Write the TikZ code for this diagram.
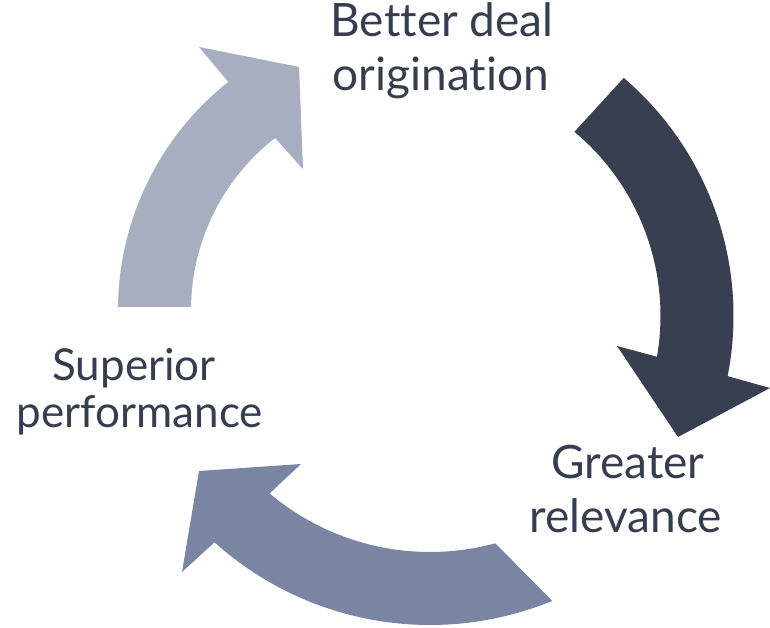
\documentclass[tikz,border=0pt]{standalone}
\usepackage{fontspec}
\setmainfont{Lato}[Ligatures=NoCommon]
\definecolor{arrowlight}{HTML}{A6AEC0}
\definecolor{arrowdark}{HTML}{383F50}
\definecolor{arrowmid}{HTML}{7985A3}
\definecolor{labeltext}{HTML}{363D50}
\begin{document}
\begin{tikzpicture}[x=1pt,y=1pt,
  lbl/.style={font=\fontsize{46}{54}\selectfont, text=labeltext, inner sep=0pt, anchor=base},
  lblsmall/.style={lbl, font=\fontsize{44}{47}\selectfont}]
\useasboundingbox (0,0) rectangle (770,627);
\coordinate (cL) at (409,317);
\coordinate (cR) at (420.5,311.1);
\coordinate (cB) at (430,324);
% heads
\coordinate (lwo) at (199,580); \coordinate (ltip) at (299,560); \coordinate (lwi) at (303,458);
\coordinate (rwo) at (770,239); \coordinate (rtip) at (678,190); \coordinate (rwi) at (617,281);
\coordinate (bwo) at (182,55);  \coordinate (btip) at (199,156); \coordinate (bwi) at (301,163);

% left arrow (light): Superior performance -> Better deal origination
\fill[arrowlight] ([shift={(cL)}]179.4:291) arc[start angle=179.4, end angle=128.4, radius=291]
  -- (lwo) -- (ltip) -- (lwi) -- ([shift={(cL)}]127.9:218)
  arc[start angle=127.9, end angle=179.2, radius=218] -- cycle;
% right arrow (dark): Better deal origination -> Greater relevance
\fill[arrowdark] ([shift={(cR)}]49.5:313) arc[start angle=49.5, end angle=-11.1, radius=313]
  -- (rwo) -- (rtip) -- (rwi) -- ([shift={(cR)}]-9.8:240)
  arc[start angle=-9.8, end angle=50.1, radius=240] -- cycle;
% bottom arrow (mid): Greater relevance -> Superior performance
\fill[arrowmid] ([shift={(cB)}]-67.7:322) arc[start angle=-67.7, end angle=-132, radius=322]
  -- (bwo) -- (btip) -- (bwi) -- ([shift={(cB)}]-130.1:249)
  arc[start angle=-130.1, end angle=-74.8, radius=249] -- cycle;

\node[lbl] (bdo1) at (442,590) {Better deal};
\node[lbl] (bdo2) at (441,536) {origination};
\node[lbl] (gr1) at (628,149) {Greater};
\node[lbl] (gr2) at (626,95) {relevance};
\node[lblsmall] (sp1) at (134,247) {Superior};
\node[lblsmall] (sp2) at (140,200) {performance};
\end{tikzpicture}
\end{document}
